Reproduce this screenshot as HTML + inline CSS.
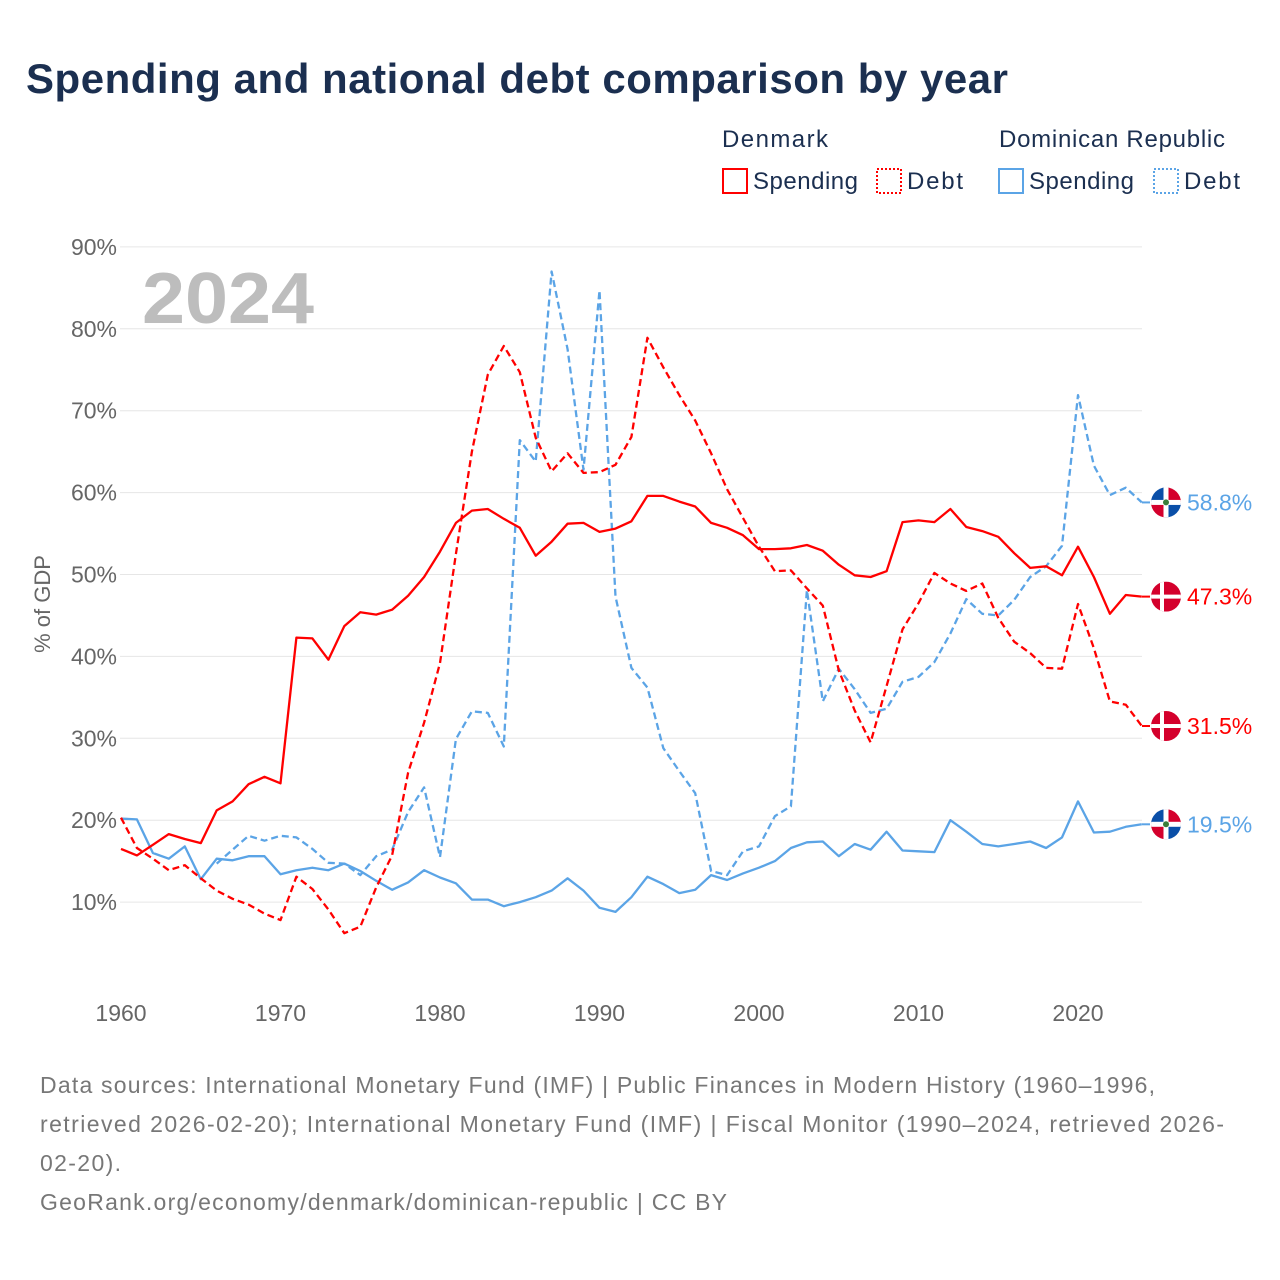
<!DOCTYPE html>
<html><head><meta charset="utf-8"><style>
body{margin:0;background:#fff;font-family:"Liberation Sans",sans-serif;}
#wrap{position:relative;width:1280px;height:1280px;overflow:hidden;}
</style></head><body>
<div id="wrap">
<svg id="chart" width="1280" height="1280" xmlns="http://www.w3.org/2000/svg">
<text x="26" y="93" font-size="42" font-weight="bold" fill="#1b2f50" textLength="982" lengthAdjust="spacing">Spending and national debt comparison by year</text>
<g font-size="24" fill="#1b2f50">
<text x="722" y="147" textLength="106" lengthAdjust="spacing">Denmark</text>
<text x="999" y="147" textLength="226" lengthAdjust="spacing">Dominican Republic</text>
<rect x="723" y="169" width="24" height="24" fill="none" stroke="#f00" stroke-width="2"/>
<text x="753" y="189" textLength="105" lengthAdjust="spacing">Spending</text>
<rect x="877" y="169" width="24" height="24" fill="none" stroke="#f00" stroke-width="2" stroke-dasharray="2,2"/>
<text x="907" y="189" textLength="56" lengthAdjust="spacing">Debt</text>
<rect x="999" y="169" width="24" height="24" fill="none" stroke="#5ba4e6" stroke-width="2"/>
<text x="1029" y="189" textLength="105" lengthAdjust="spacing">Spending</text>
<rect x="1154" y="169" width="24" height="24" fill="none" stroke="#5ba4e6" stroke-width="2" stroke-dasharray="2,2"/>
<text x="1184" y="189" textLength="56" lengthAdjust="spacing">Debt</text>
</g>
<text x="142" y="323" font-size="72" font-weight="bold" fill="#bdbdbd" textLength="172" lengthAdjust="spacingAndGlyphs">2024</text>
<text transform="translate(50,604) rotate(-90)" text-anchor="middle" font-size="22" fill="#666">% of GDP</text>
<g id="grid"></g><g id="series"></g><g id="ends"></g>
<g font-size="23" fill="#777">
<text x="40" y="1093" textLength="1115" lengthAdjust="spacing">Data sources: International Monetary Fund (IMF) | Public Finances in Modern History (1960–1996,</text>
<text x="40" y="1132" textLength="1184" lengthAdjust="spacing">retrieved 2026-02-20); International Monetary Fund (IMF) | Fiscal Monitor (1990–2024, retrieved 2026-</text>
<text x="40" y="1171" textLength="81" lengthAdjust="spacing">02-20).</text>
<text x="40" y="1210" textLength="687" lengthAdjust="spacing">GeoRank.org/economy/denmark/dominican-republic | CC BY</text>
</g>
</svg>
</div>
<script>
const yTicks=[10,20,30,40,50,60,70,80,90];
const xTicks=[1960,1970,1980,1990,2000,2010,2020];
const dkYears=[1960,1961,1962,1963,1964,1965,1966,1967,1968,1969,1970,1971,1972,1973,1974,1975,1976,1977,1978,1979,1980,1981,1982,1983,1984,1985,1986,1987,1988,1989,1990,1991,1992,1993,1994,1995,1996,1997,1998,1999,2000,2001,2002,2003,2004,2005,2006,2007,2008,2009,2010,2011,2012,2013,2014,2015,2016,2017,2018,2019,2020,2021,2022,2023,2024];
const dkSpending=[16.5,15.7,17.0,18.3,17.7,17.2,21.2,22.3,24.4,25.3,24.5,42.3,42.2,39.6,43.7,45.4,45.1,45.7,47.4,49.7,52.8,56.3,57.8,58.0,56.8,55.7,52.3,54.0,56.2,56.3,55.2,55.6,56.5,59.6,59.6,58.9,58.3,56.3,55.7,54.8,53.1,53.1,53.2,53.6,52.9,51.2,49.9,49.7,50.4,56.4,56.6,56.4,58.0,55.8,55.3,54.6,52.6,50.8,51.0,49.9,53.4,49.7,45.2,47.5,47.3];
const dkDebt=[20.3,16.6,15.3,13.9,14.5,12.9,11.4,10.4,9.7,8.6,7.8,13.1,11.6,9.1,6.2,7.0,11.8,15.7,25.8,31.9,39.2,52.5,65.0,74.4,77.9,74.7,66.7,62.6,64.8,62.4,62.5,63.4,66.8,78.9,75.3,71.9,68.8,64.8,60.4,56.9,53.4,50.4,50.5,48.3,46.2,38.3,33.4,29.5,36.4,43.3,46.5,50.2,48.9,48.0,48.9,44.7,41.8,40.4,38.6,38.5,46.4,41.0,34.5,34.1,31.5];
const drSpending=[20.2,20.1,16.0,15.3,16.8,12.8,15.3,15.1,15.6,15.6,13.4,13.9,14.2,13.9,14.7,13.8,12.6,11.5,12.4,13.9,13.0,12.3,10.3,10.3,9.5,10.0,10.6,11.4,12.9,11.4,9.3,8.8,10.6,13.1,12.2,11.1,11.5,13.3,12.7,13.5,14.2,15.0,16.6,17.3,17.4,15.6,17.1,16.4,18.6,16.3,16.2,16.1,20.0,18.6,17.1,16.8,17.1,17.4,16.6,17.9,22.3,18.5,18.6,19.2,19.5];
const drDebtYears=[1966,1967,1968,1969,1970,1971,1972,1973,1974,1975,1976,1977,1978,1979,1980,1981,1982,1983,1984,1985,1986,1987,1988,1989,1990,1991,1992,1993,1994,1995,1996,1997,1998,1999,2000,2001,2002,2003,2004,2005,2006,2007,2008,2009,2010,2011,2012,2013,2014,2015,2016,2017,2018,2019,2020,2021,2022,2023,2024];
const drDebt=[14.7,16.4,18.1,17.5,18.1,17.9,16.5,14.8,14.7,13.3,15.6,16.4,21.0,24.0,15.5,29.9,33.3,33.1,29.0,66.4,63.8,87.0,77.5,62.8,84.7,47.3,38.6,36.2,28.8,26.0,23.3,13.8,13.3,16.2,16.8,20.5,21.7,48.1,34.5,38.5,36.0,33.1,33.6,36.9,37.5,39.3,42.8,47.0,45.2,45.0,46.9,49.7,51.0,53.5,71.9,63.3,59.7,60.6,58.8];

const NS="http://www.w3.org/2000/svg";
function X(yr){return 121+(yr-1960)*(957/60);}
function Y(v){return 984-v*8.19;}
function mk(tag,attrs,parent){const e=document.createElementNS(NS,tag);for(const k in attrs)e.setAttribute(k,attrs[k]);parent.appendChild(e);return e;}
const grid=document.getElementById('grid');
yTicks.forEach(t=>{
  const l=mk('line',{x1:120,x2:1142,y1:Y(t),y2:Y(t),stroke:'#e6e6e6','stroke-width':1},grid);
  
  
  const tx=mk('text',{x:117,y:Y(t)+8,'text-anchor':'end','font-size':23,fill:'#666'},grid);
  tx.textContent=t+'%';
  
  
});
xTicks.forEach(t=>{
  const tx=mk('text',{x:X(t),y:1021,'text-anchor':'middle','font-size':23,fill:'#666'},grid);
  tx.textContent=t;
  
  
});
const ser=document.getElementById('series');
function line(years,vals,color,dash,name){
  const d=years.map((y,i)=>(i?'L':'M')+X(y).toFixed(1)+','+Y(vals[i]).toFixed(1)).join('');
  const p=mk('path',{d:d,fill:'none',stroke:color,'stroke-width':2.3,'stroke-linejoin':'round'},ser);
  if(dash)p.setAttribute('stroke-dasharray','7,4');
  
  
}
line(drDebtYears,drDebt,'#5ba4e6',true,'dr-debt-line');
line(dkYears,drSpending,'#5ba4e6',false,'dr-spending-line');
line(dkYears,dkDebt,'#f00',true,'dk-debt-line');
line(dkYears,dkSpending,'#f00',false,'dk-spending-line');
const ends=document.getElementById('ends');
function endMark(val,country,color,name){
  const cx=1166,cy=Y(val);
  const g=mk('g',{},ends);
  
  
  mk('line',{x1:1142,x2:1150,y1:cy,y2:cy,stroke:color,'stroke-width':2},g);
  const cid='c'+name;
  const cp=mk('clipPath',{id:cid},g);mk('circle',{cx:cx,cy:cy,r:15},cp);
  const f=mk('g',{'clip-path':'url(#'+cid+')'},g);
  if(country==='dk'){
    mk('rect',{x:cx-15,y:cy-15,width:30,height:30,fill:'#d4002c'},f);
    mk('rect',{x:cx-6,y:cy-15,width:4,height:30,fill:'#fff'},f);
    mk('rect',{x:cx-15,y:cy-2,width:30,height:4,fill:'#fff'},f);
  }else{
    mk('rect',{x:cx-15,y:cy-15,width:15,height:15,fill:'#0a4fa8'},f);
    mk('rect',{x:cx,y:cy-15,width:15,height:15,fill:'#d4002c'},f);
    mk('rect',{x:cx-15,y:cy,width:15,height:15,fill:'#d4002c'},f);
    mk('rect',{x:cx,y:cy,width:15,height:15,fill:'#0a4fa8'},f);
    mk('rect',{x:cx-2.5,y:cy-15,width:5,height:30,fill:'#fff'},f);
    mk('rect',{x:cx-15,y:cy-2.5,width:30,height:5,fill:'#fff'},f);
    mk('circle',{cx:cx,cy:cy,r:3,fill:'#3a7d3a'},f);
  }
  const t=mk('text',{x:1187,y:cy+8,'font-size':23,fill:color},g);
  t.textContent=val.toFixed(1)+'%';
}
endMark(drDebt[drDebt.length-1],'dr','#5ba4e6','end-label-dr-debt');
endMark(dkSpending[dkSpending.length-1],'dk','#f00','end-label-dk-spending');
endMark(dkDebt[dkDebt.length-1],'dk','#f00','end-label-dk-debt');
endMark(drSpending[drSpending.length-1],'dr','#5ba4e6','end-label-dr-spending');
</script>
</body></html>
